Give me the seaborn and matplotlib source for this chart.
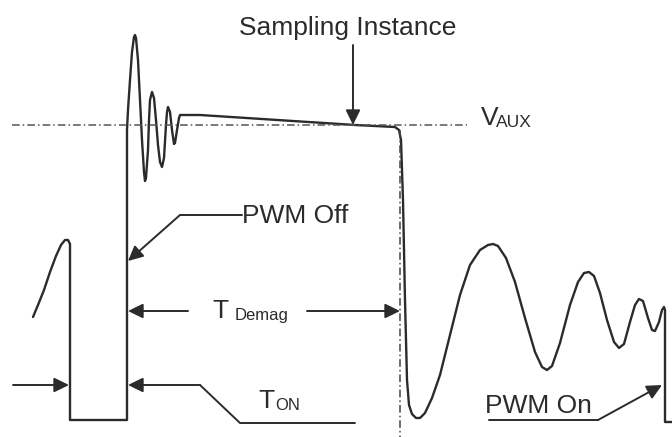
import seaborn as sns
import matplotlib.pyplot as plt
import pandas as pd

# auxiliary winding waveform, traced in image pixels (x right, y down)
wave_x = [33, 38, 44, 50, 56, 61, 65, 68, 70, 70, 127, 127,
          127, 128, 130, 132, 134, 135, 136, 138, 140, 142, 144, 145, 146, 148, 149, 150,
          152, 154, 156, 158, 160, 162, 164, 166, 167, 168, 170, 172, 174, 175, 177, 179,
          180, 200, 355, 395, 399, 401, 403, 405, 407, 409, 412, 416, 420, 425, 432, 440,
          450, 460, 470, 480, 488, 493, 498, 506, 515, 525, 535, 542, 547, 552, 560, 570,
          578, 584, 589, 594, 600, 607, 614, 619, 624, 630, 635, 639, 643, 648, 652, 655,
          659, 662, 664, 665, 665, 672]
wave_y = [317, 305, 290, 272, 256, 245, 240, 240, 244, 420, 420, 135,
          130, 110, 80, 52, 37, 35, 38, 60, 100, 140, 172, 181, 178, 150, 120, 100,
          92, 98, 120, 145, 162, 167, 158, 125, 112, 107, 112, 130, 144, 143, 130, 118,
          115, 115, 125, 127, 130, 140, 200, 300, 380, 405, 414, 418, 418, 413, 398, 375,
          335, 295, 265, 250, 245, 244, 246, 258, 282, 318, 352, 367, 370, 366, 343, 305,
          282, 273, 272, 276, 293, 320, 342, 348, 344, 322, 305, 299, 301, 318, 330, 331,
          322, 310, 307, 310, 422, 422]

v_aux_level = 125
demag_end_x = 400
sample_x = 353

ink = "#2b2b2b"
df = pd.DataFrame({"x": wave_x, "y": wave_y})

sns.set_style("white")
plt.rcParams["font.family"] = ["Liberation Sans", "DejaVu Sans"]

fig = plt.figure(figsize=(6.72, 4.37), dpi=100)
ax = fig.add_axes([0, 0, 1, 1])

sns.lineplot(data=df, x="x", y="y", sort=False, estimator=None,
             color=ink, linewidth=1.7, ax=ax)

# reference lines
dashdot = (0, (5, 2, 1, 2))
ax.plot([12, 467], [v_aux_level, v_aux_level], color="#555555", lw=1.1, linestyle=dashdot)
ax.plot([demag_end_x, demag_end_x], [130, 437], color="#444444", lw=1.1, linestyle=dashdot)

arrow = dict(arrowstyle="-|>,head_length=0.45,head_width=0.22", color=ink, lw=1.4,
             mutation_scale=20, shrinkA=0, shrinkB=0)

# sampling instance
ax.annotate("", xy=(sample_x, v_aux_level), xytext=(sample_x, 45), arrowprops=arrow)
ax.text(239, 35, "Sampling Instance", fontsize=19, color=ink, va="baseline")

# V_AUX label
ax.text(481, 125, "V", fontsize=19, color=ink, va="baseline")
ax.text(496, 127, "AUX", fontsize=12.5, color=ink, va="baseline")

# PWM Off
ax.plot([242, 180], [215, 215], color=ink, lw=1.4)
ax.annotate("", xy=(128, 261), xytext=(180, 215), arrowprops=arrow)
ax.text(242, 223, "PWM Off", fontsize=19, color=ink, va="baseline")

# T_Demag
ax.annotate("", xy=(128, 311), xytext=(188, 311), arrowprops=arrow)
ax.annotate("", xy=(demag_end_x, 311), xytext=(307, 311), arrowprops=arrow)
ax.text(212, 318, "T", fontsize=19, color=ink, va="baseline")
ax.text(235, 320, "Demag", fontsize=12, color=ink, va="baseline")

# T_ON
ax.annotate("", xy=(69, 385), xytext=(13, 385), arrowprops=arrow)
ax.plot([355, 240, 200], [423, 423, 385], color=ink, lw=1.4)
ax.annotate("", xy=(128, 385), xytext=(200, 385), arrowprops=arrow)
ax.text(258, 408, "T", fontsize=19, color=ink, va="baseline")
ax.text(275, 410, "ON", fontsize=12, color=ink, va="baseline")

# PWM On
ax.plot([489, 598], [420, 420], color=ink, lw=1.4)
ax.annotate("", xy=(662, 385), xytext=(598, 420), arrowprops=arrow)
ax.text(485, 413, "PWM On", fontsize=19, color=ink, va="baseline")

ax.set_xlim(0, 672)
ax.set_ylim(437, 0)
ax.set_axis_off()

fig.savefig("out.png", dpi=100, facecolor="white")
plt.close(fig)
